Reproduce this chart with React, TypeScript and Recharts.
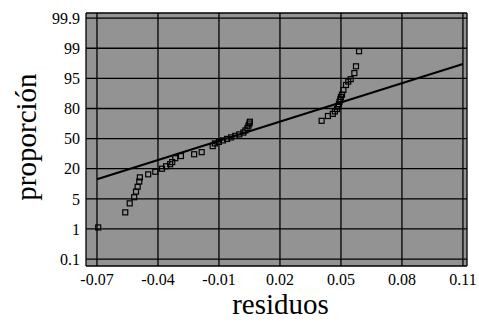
import React from 'react';
import { ScatterChart, Scatter, XAxis, YAxis, CartesianGrid } from 'recharts';

const yTickLabels = ['0.1', '1', '5', '20', '50', '80', '95', '99', '99.9'];
const yTickPercents = [0.1, 1, 5, 20, 50, 80, 95, 99, 99.9];
const xTicks = [-0.07, -0.04, -0.01, 0.02, 0.05, 0.08, 0.11];

const residuals = [
  -0.0694, -0.0561, -0.0539, -0.0517, -0.0508, -0.05, -0.0492, -0.0489, -0.0448, -0.0413,
  -0.038, -0.036, -0.034, -0.033, -0.0315, -0.0287, -0.0222, -0.0185, -0.0131,
  -0.012, -0.01, -0.008, -0.006, -0.004, -0.002, 0.0, 0.002, 0.003, 0.004, 0.0045, 0.005, 0.0052,
  0.0405, 0.0436, 0.046, 0.047, 0.048, 0.0485, 0.049, 0.0493, 0.0497, 0.05, 0.0505, 0.0512,
  0.0525, 0.0536, 0.0548, 0.0566, 0.0574, 0.0589,
];
const proportions = [
  1.2, 3.2, 4.4, 5.8, 8.6, 11, 13.6, 15.7, 17.2, 18.5,
  20, 22.4, 24.5, 26.6, 30.5, 32.6, 34.4, 36.5, 42.5,
  45.2, 46.7, 48.2, 49.7, 51.2, 52.7, 54.2, 56, 58.1, 60.5, 62.9, 65, 66.8,
  67.7, 72.5, 74.6, 77, 79.4, 80.9, 82.1, 83.3, 84.5, 85.7, 86.9, 89.2,
  91.7, 93.4, 94.6, 95.7, 96.6, 98.6,
];
const fitLineX = [-0.07, 0.11];
const fitLineP = [14.75, 96.9];

// probability paper: tick labels evenly spaced, interpolate between them
function toPos(p: number): number {
  for (let i = 0; i < yTickPercents.length - 1; i++) {
    const a = yTickPercents[i];
    const b = yTickPercents[i + 1];
    if (p <= b) return i + (p - a) / (b - a);
  }
  return yTickPercents.length - 1;
}

const points = residuals.map((r, i) => ({ x: r, y: toPos(proportions[i]) }));
const fitLine = fitLineX.map((x, i) => ({ x, y: toPos(fitLineP[i]) }));
const yTicks = yTickLabels.map((_, i) => i);

const FONT = '"Liberation Serif", "Times New Roman", serif';

const SquareMarker = (props: any) => {
  const { cx, cy } = props;
  if (cx == null || cy == null) return null;
  return <rect x={cx - 2.5} y={cy - 2.5} width={5} height={5} fill="none" stroke="#000" strokeWidth={1.2} />;
};

const NoMarker = () => null;

export default function App() {
  return (
    <div style={{ position: 'absolute', left: 0, top: 0, background: '#fff' }}>
      <ScatterChart width={479} height={326} margin={{ top: 13, right: 12, bottom: 0, left: 0 }}>
        <CartesianGrid fill="#939393" stroke="#000" strokeWidth={1.3} strokeOpacity={1} />
        <XAxis
          type="number"
          dataKey="x"
          domain={[-0.0754, 0.112]}
          ticks={xTicks}
          allowDataOverflow
          axisLine={false}
          tickLine={false}
          height={60}
          tickFormatter={(v: number) => v.toFixed(2)}
          tick={{ fill: '#000', fontSize: 16, fontFamily: FONT }}
          label={{
            content: (p: any) => {
              const vb = p.viewBox || {};
              return (
                <text x={vb.x + vb.width / 2 + 4} y={314} textAnchor="middle" fontSize={29} fontFamily={FONT} fill="#000">
                  residuos
                </text>
              );
            },
          }}
        />
        <YAxis
          type="number"
          dataKey="y"
          domain={[-0.23, 8.17]}
          ticks={yTicks}
          allowDataOverflow
          axisLine={false}
          tickLine={false}
          tickSize={3}
          tickMargin={3}
          width={86}
          tickFormatter={(v: number) => yTickLabels[v] ?? ''}
          tick={{ fill: '#000', fontSize: 16, fontFamily: FONT }}
          label={{
            content: () => (
              <text
                x={0}
                y={0}
                transform="translate(36,137) rotate(-90)"
                textAnchor="middle"
                fontSize={29}
                fontFamily={FONT}
                fill="#000"
              >
                proporción
              </text>
            ),
          }}
        />
        <Scatter data={fitLine} line={{ stroke: '#000', strokeWidth: 2 }} shape={NoMarker} isAnimationActive={false} />
        <Scatter data={points} shape={SquareMarker} isAnimationActive={false} />
      </ScatterChart>
    </div>
  );
}
